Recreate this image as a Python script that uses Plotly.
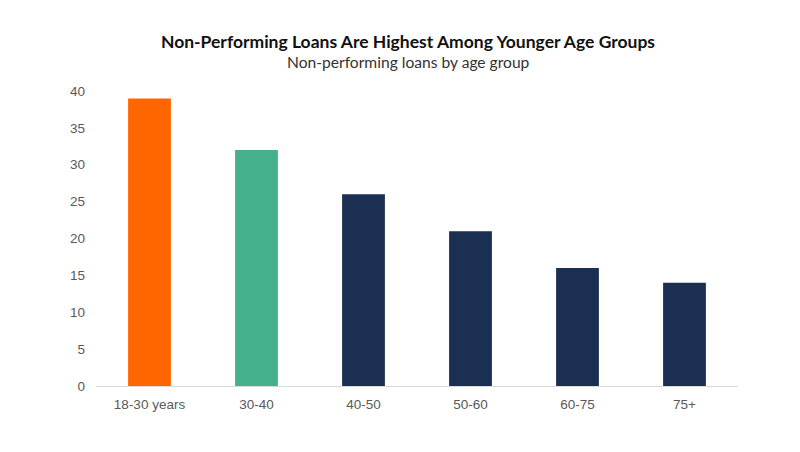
import plotly.graph_objects as go

categories = ["18-30 years", "30-40", "40-50", "50-60", "60-75", "75+"]
values = [39, 32, 26, 21, 16, 14]
colors = ["#FF6600", "#45B08C", "#1B2F52", "#1B2F52", "#1B2F52", "#1B2F52"]

fig = go.Figure(go.Bar(x=categories, y=values, marker=dict(color=colors, line=dict(width=0))))

fig.update_layout(
    width=800, height=452,
    paper_bgcolor="white", plot_bgcolor="white",
    margin=dict(l=88, r=70, t=83, b=74),
    bargap=0.6,
    font=dict(family="Liberation Sans, Arial, sans-serif", color="#595959"),
    title=dict(text="<b>Non-Performing Loans Are Highest Among Younger Age Groups</b>",
               x=400/800, xanchor="center", xref="container",
               y=1-34/452, yanchor="middle", yref="container",
               font=dict(size=17.5, color="#111111", family="Lato, sans-serif")),
    showlegend=False,
)
fig.add_annotation(text="Non-performing loans by age group", xref="paper", yref="paper",
                   x=(408-96)/(738-96), y=(386-62)/295, xanchor="center", yanchor="middle",
                   showarrow=False, font=dict(size=15.6, color="#333333", family="Lato, sans-serif"))
fig.update_xaxes(showline=True, linecolor="#D9D9D9", linewidth=1, ticks="",
                 ticklabelstandoff=6,
                 tickfont=dict(size=13.5, color="#595959"), showgrid=False)
fig.update_yaxes(range=[0, 40], dtick=5, showgrid=False, zeroline=False, showline=False,
                 ticks="", ticklabelstandoff=10, tickfont=dict(size=13.5, color="#595959"))

fig.write_html("out.html")
